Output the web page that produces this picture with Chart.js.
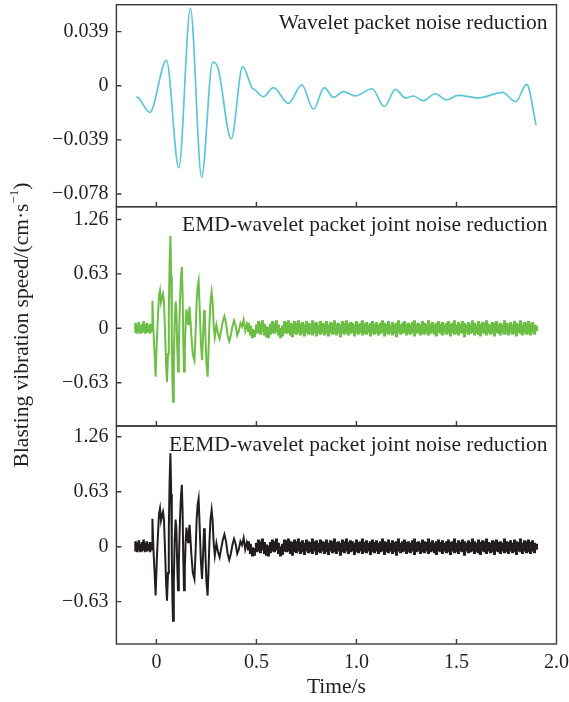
<!DOCTYPE html>
<html>
<head>
<meta charset="utf-8">
<title>Blasting vibration denoising</title>
<script src="https://cdn.jsdelivr.net/npm/chart.js@4.4.1/dist/chart.umd.min.js"></script>
<style>
  html, body { margin: 0; padding: 0; background: #fff; }
  #wrap { position: relative; width: 569px; height: 702px; }
</style>
</head>
<body>
<div id="wrap"><canvas id="speedChart" width="569" height="702"></canvas></div>
<script>
// axis ticks
const timeTicks = [0, 0.5, 1.0, 1.5, 2.0];
const waveletTicks = [0.039, 0, -0.039, -0.078];
const jointTicks = [1.26, 0.63, 0, -0.63];

const panelTitles = [
    'Wavelet packet noise reduction',
    'EMD-wavelet packet joint noise reduction',
    'EEMD-wavelet packet joint noise reduction'
];

// wavelet packet result: turning points of the smooth trace (s, cm/s)
const waveletTime = [
    -0.100, -0.088, -0.033, 0.050, 0.112, 0.170, 0.226, 0.281, 0.306, 0.374,
    0.431, 0.478, 0.493, 0.534, 0.585, 0.660, 0.727, 0.785, 0.839, 0.885,
    0.935, 0.994, 1.078, 1.139, 1.195, 1.245, 1.286, 1.333, 1.395, 1.450,
    1.507, 1.612, 1.729, 1.796, 1.851, 1.898
];
const waveletSpeed = [
    -0.0078, -0.0090, -0.0192, 0.0183, -0.0591, 0.0558, -0.0658, 0.0169, 0.0137, -0.0384,
    0.0137, -0.0015, -0.0030, -0.0079, -0.0014, -0.0127, 0.0007, -0.0170, -0.0014, -0.0084,
    -0.0043, -0.0074, -0.0022, -0.0151, -0.0026, -0.0088, -0.0074, -0.0108, -0.0058, -0.0103,
    -0.0069, -0.0087, -0.0048, -0.0115, 0.0010, -0.0283
];

// joint methods: main burst and its decaying wave (s, cm/s)
const burstTime = [
    -0.026, -0.022, -0.020, -0.015, -0.009, -0.004, 0.002, 0.008, 0.013, 0.018,
    0.023, 0.028, 0.033, 0.038, 0.044, 0.049, 0.053, 0.058, 0.062, 0.066,
    0.070, 0.074, 0.077, 0.080, 0.083, 0.087, 0.091, 0.096, 0.100, 0.104,
    0.108, 0.112, 0.117, 0.122, 0.127, 0.131, 0.134, 0.138, 0.142, 0.146,
    0.150, 0.154, 0.158, 0.162, 0.166, 0.170, 0.175, 0.182, 0.190, 0.196,
    0.201, 0.206, 0.211, 0.216, 0.222, 0.228, 0.233, 0.238, 0.242, 0.246,
    0.250, 0.256, 0.260, 0.265, 0.270, 0.276, 0.281, 0.286, 0.292, 0.300,
    0.308, 0.316, 0.324, 0.332, 0.340, 0.348, 0.356, 0.364, 0.372, 0.380,
    0.388, 0.396, 0.404, 0.412, 0.420, 0.428, 0.436, 0.444, 0.452, 0.460
];
const emdBurst = [
    -0.02, 0.04, 0.32, -0.02, -0.30, -0.56, -0.15, 0.15, 0.38, 0.44,
    0.30, 0.36, 0.40, 0.30, -0.10, -0.45, -0.62, -0.30, 0.20, 0.75,
    1.07, 0.60, -0.10, -0.60, -0.85, -0.40, 0.05, 0.31, 0.20, -0.20,
    -0.50, -0.20, 0.25, 0.55, 0.71, 0.40, -0.10, -0.50, -0.25, 0.05,
    0.22, 0.12, 0.05, 0.18, 0.25, 0.10, -0.10, -0.30, -0.37, -0.05,
    0.30, 0.48, 0.55, 0.25, -0.15, -0.37, -0.10, 0.21, 0.15, -0.15,
    -0.40, -0.56, -0.30, 0.05, 0.30, 0.42, 0.30, 0.05, -0.10, 0.04,
    -0.06, -0.12, -0.02, 0.08, 0.14, 0.06, -0.08, -0.15, -0.08, 0.02,
    0.09, 0.03, -0.08, -0.03, 0.06, 0.02, 0.10, -0.03, 0.05, -0.02
];

// quiet record before the burst: noise extent every 8 ms from -0.104 s
const preStart = -0.104;
const preStep = 0.008;
const emdPreUpper = [0.06, 0.04, 0.07, 0.03, 0.05, 0.08, 0.04, 0.06, 0.03, 0.05, 0.04];
const emdPreLower = [-0.05, -0.06, -0.04, -0.06, -0.05, -0.04, -0.06, -0.05, -0.04, -0.06, -0.04];

// residual noise after the burst: noise extent every 10 ms from 0.46 s
const tailStart = 0.46;
const tailStep = 0.01;
const emdTailUpper = [
    0.06, 0.03, -0.01, -0.02, 0.04, 0.08, 0.06, 0.09, 0.05, 0.02,
    0.01, 0.05, 0.08, 0.06, 0.09, 0.04, 0.00, 0.03, 0.08, 0.07,
    0.09, 0.06, 0.05, 0.08, 0.06, 0.09, 0.05, 0.07, 0.04, 0.08,
    0.06, 0.05, 0.09, 0.06, 0.07, 0.04, 0.08, 0.06, 0.05, 0.08,
    0.04, 0.07, 0.06, 0.09, 0.05, 0.06, 0.04, 0.08, 0.06, 0.09,
    0.05, 0.07, 0.06, 0.04, 0.08, 0.05, 0.06, 0.09, 0.05, 0.07,
    0.04, 0.06, 0.08, 0.05, 0.07, 0.04, 0.06, 0.09, 0.06, 0.05,
    0.08, 0.04, 0.07, 0.05, 0.06, 0.09, 0.04, 0.06, 0.08, 0.05,
    0.06, 0.04, 0.07, 0.09, 0.05, 0.06, 0.04, 0.08, 0.06, 0.05,
    0.09, 0.05, 0.07, 0.04, 0.06, 0.08, 0.05, 0.07, 0.04, 0.06,
    0.08, 0.05, 0.06, 0.09, 0.04, 0.07, 0.05, 0.08, 0.06, 0.04,
    0.07, 0.05, 0.09, 0.06, 0.04, 0.08, 0.05, 0.07, 0.06, 0.09,
    0.05, 0.04, 0.07, 0.06, 0.08, 0.05, 0.06, 0.04, 0.09, 0.06,
    0.05, 0.07, 0.04, 0.08, 0.06, 0.05, 0.09, 0.04, 0.07, 0.06,
    0.08, 0.05, 0.07, 0.04, 0.03
];
const emdTailLower = [
    -0.04, -0.08, -0.11, -0.10, -0.06, -0.05, -0.07, -0.04, -0.08, -0.10,
    -0.11, -0.07, -0.05, -0.06, -0.04, -0.08, -0.11, -0.09, -0.05, -0.06,
    -0.05, -0.08, -0.10, -0.06, -0.07, -0.05, -0.08, -0.06, -0.09, -0.05,
    -0.07, -0.06, -0.08, -0.05, -0.09, -0.06, -0.07, -0.05, -0.08, -0.06,
    -0.09, -0.05, -0.07, -0.06, -0.08, -0.05, -0.10, -0.06, -0.07, -0.05,
    -0.08, -0.06, -0.05, -0.09, -0.06, -0.07, -0.05, -0.08, -0.06, -0.07,
    -0.05, -0.09, -0.06, -0.07, -0.05, -0.08, -0.06, -0.05, -0.09, -0.06,
    -0.07, -0.05, -0.08, -0.06, -0.10, -0.05, -0.07, -0.06, -0.05, -0.08,
    -0.06, -0.07, -0.05, -0.09, -0.06, -0.05, -0.08, -0.06, -0.07, -0.05,
    -0.08, -0.06, -0.05, -0.07, -0.09, -0.05, -0.06, -0.08, -0.05, -0.07,
    -0.06, -0.09, -0.05, -0.07, -0.06, -0.08, -0.05, -0.06, -0.10, -0.05,
    -0.07, -0.06, -0.05, -0.08, -0.06, -0.07, -0.09, -0.05, -0.06, -0.08,
    -0.05, -0.07, -0.06, -0.09, -0.05, -0.06, -0.08, -0.05, -0.07, -0.06,
    -0.08, -0.05, -0.07, -0.06, -0.09, -0.05, -0.06, -0.08, -0.05, -0.07,
    -0.06, -0.08, -0.05, -0.07, -0.03
];

// EEMD trace reads the same as the EMD one at this scale
const eemdBurst = emdBurst;
const eemdPreUpper = emdPreUpper;
const eemdPreLower = emdPreLower;
const eemdTailUpper = emdTailUpper;
const eemdTailLower = emdTailLower;

const SERIF = "'Liberation Serif', 'Times New Roman', serif";
const INK = '#231f20';
const TICK_SIZE = 20;
const TITLE_SIZE = 21.5;
const CYAN = '#5cc6d4';
const GREEN = '#6cbe45';
const BLACK = '#221e1f';

function toPoints(times, values) {
    return values.map((v, i) => ({ x: times[i], y: v }));
}

function rangePoints(start, step, upper, lower) {
    return upper.map((u, i) => ({ x: start + i * step, y: [lower[i], u] }));
}

// noise drawn as floating columns (low..high per window), burst as a line
function jointDatasets(axisId, color, burst, preUp, preLow, tailUp, tailLow) {
    const noise = (data, width) => ({
        type: 'bar',
        data: data,
        yAxisID: axisId,
        backgroundColor: color,
        borderWidth: 0,
        barThickness: width,
        grouped: false
    });
    return [
        noise(rangePoints(preStart, preStep, preUp, preLow), 2),
        noise(rangePoints(tailStart, tailStep, tailUp, tailLow), 2.4),
        {
            type: 'line',
            data: toPoints(burstTime, burst),
            yAxisID: axisId,
            borderColor: color,
            borderWidth: 2,
            pointRadius: 0,
            tension: 0,
            fill: false
        }
    ];
}

function speedLabel(v) {
    return v < 0 ? '\u2212' + Math.abs(v) : String(v);
}

function speedAxis(ticks, min, max, stackWeight, weight) {
    return {
        type: 'linear',
        position: 'left',
        stack: 'speed',
        stackWeight: stackWeight,
        weight: weight,
        min: min,
        max: max,
        grid: { display: false, drawTicks: false },
        border: { display: false },
        afterBuildTicks: s => { s.ticks = ticks.map(v => ({ value: v })); },
        afterFit: s => {
            // fixed gutter, no extra room for the end labels
            s.width = 116.4;
            s.paddingTop = 0;
            s.paddingBottom = 0;
        },
        ticks: {
            padding: 8,
            color: INK,
            font: { family: SERIF, size: TICK_SIZE },
            callback: v => speedLabel(v)
        }
    };
}

// frames, inward ticks, panel captions and the shared y title
const panelFrames = {
    id: 'panelFrames',
    afterDatasetsDraw(chart) {
        const { ctx, chartArea, scales } = chart;
        const xs = scales.x;
        ctx.save();
        ctx.strokeStyle = '#3a3a3a';
        ctx.lineWidth = 1.4;
        ['yTop', 'yMid', 'yBot'].forEach((id, i) => {
            const s = scales[id];
            ctx.strokeRect(chartArea.left, s.top, chartArea.right - chartArea.left, s.bottom - s.top);
            ctx.beginPath();
            s.ticks.forEach(t => {
                const y = s.getPixelForValue(t.value);
                ctx.moveTo(chartArea.left, y);
                ctx.lineTo(chartArea.left + 5, y);
            });
            timeTicks.forEach(v => {
                if (v >= xs.max) return;
                const px = xs.getPixelForValue(v);
                ctx.moveTo(px, s.bottom);
                ctx.lineTo(px, s.bottom - 5);
            });
            ctx.stroke();

            ctx.fillStyle = INK;
            ctx.font = TITLE_SIZE + 'px ' + SERIF;
            ctx.textAlign = 'right';
            ctx.textBaseline = 'middle';
            ctx.fillText(panelTitles[i], chartArea.right - 9, s.top + 19);
        });

        // Blasting vibration speed/(cm·s^-1), rotated
        const main = 'Blasting vibration speed/(cm\u00b7s';
        const sup = '\u22121';
        const end = ')';
        const bigFont = TITLE_SIZE + 'px ' + SERIF;
        const smallFont = '13px ' + SERIF;
        ctx.font = bigFont;
        const wMain = ctx.measureText(main).width;
        const wEnd = ctx.measureText(end).width;
        ctx.font = smallFont;
        const wSup = ctx.measureText(sup).width;
        const total = wMain + wSup + wEnd;
        ctx.translate(22, 325);
        ctx.rotate(-Math.PI / 2);
        ctx.textAlign = 'left';
        ctx.textBaseline = 'middle';
        let x0 = -total / 2;
        ctx.font = bigFont;
        ctx.fillText(main, x0, 0);
        x0 += wMain;
        ctx.font = smallFont;
        ctx.fillText(sup, x0, -7);
        x0 += wSup;
        ctx.font = bigFont;
        ctx.fillText(end, x0, 0);
        ctx.restore();
    }
};

new Chart(document.getElementById('speedChart').getContext('2d'), {
    type: 'line',
    data: {
        datasets: [
            {
                label: 'Wavelet packet',
                data: toPoints(waveletTime, waveletSpeed),
                yAxisID: 'yTop',
                borderColor: CYAN,
                borderWidth: 1.7,
                cubicInterpolationMode: 'monotone',
                pointRadius: 0,
                fill: false
            },
            ...jointDatasets('yMid', GREEN, emdBurst, emdPreUpper, emdPreLower, emdTailUpper, emdTailLower),
            ...jointDatasets('yBot', BLACK, eemdBurst, eemdPreUpper, eemdPreLower, eemdTailUpper, eemdTailLower)
        ]
    },
    options: {
        responsive: false,
        animation: false,
        devicePixelRatio: 1,
        layout: { padding: { top: 4.7, right: 12.5, left: 0, bottom: 0 } },
        plugins: {
            legend: { display: false },
            tooltip: { enabled: false }
        },
        scales: {
            x: {
                type: 'linear',
                position: 'bottom',
                offset: false,
                min: -0.2,
                max: 2.0,
                grid: { display: false, drawTicks: false },
                border: { display: false },
                afterBuildTicks: s => { s.ticks = timeTicks.map(v => ({ value: v })); },
                afterFit: s => {
                    s.height = 58;
                    s.paddingLeft = 0;
                    s.paddingRight = 0;
                },
                ticks: {
                    padding: 7,
                    maxRotation: 0,
                    color: INK,
                    font: { family: SERIF, size: TICK_SIZE },
                    callback: v => (v === 0 ? '0' : v.toFixed(1))
                },
                title: {
                    display: true,
                    text: 'Time/s',
                    color: INK,
                    font: { family: SERIF, size: TITLE_SIZE },
                    padding: { top: 0, bottom: 2 }
                }
            },
            yTop: speedAxis(waveletTicks, -0.0872, 0.0584, 202, 3),
            yMid: speedAxis(jointTicks, -1.131, 1.408, 219.3, 2),
            yBot: speedAxis(jointTicks, -1.115, 1.383, 218, 1)
        }
    },
    plugins: [panelFrames]
});
</script>
</body>
</html>
